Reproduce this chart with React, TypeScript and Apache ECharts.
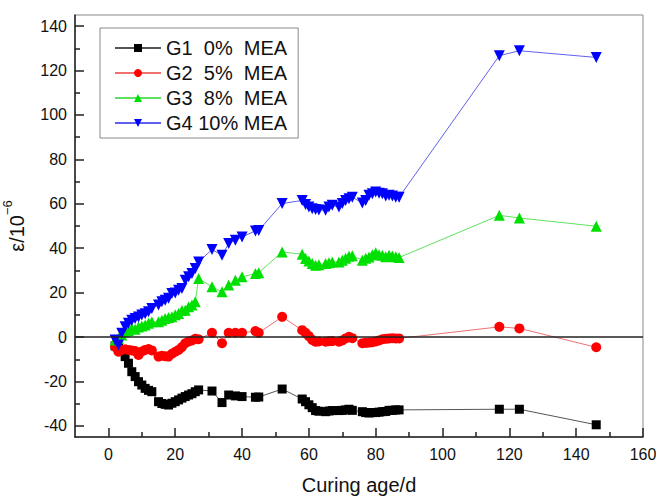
import React, { useEffect, useRef } from "react";
import * as echarts from "echarts";

// Curing age (days) shared by all four mixes
const days = [
  2, 3, 4, 5, 6, 7, 8, 9, 10, 11, 12, 13,
  15, 16, 17, 18, 19, 20, 21, 22, 23, 24, 25, 26, 27,
  31, 34, 36, 38, 40, 44, 45,
  52,
  58, 59, 60, 61, 62, 63, 65, 66, 67, 69, 70, 71, 72, 73,
  76, 77, 78, 79, 80, 81, 82, 83, 84, 85, 86, 87,
  117, 123, 146,
];

// Strain (×10^-6) for each mix
const g1Strain = [
  -4, -5, -6.5, -8.8, -11.8, -15.6, -17.8, -20.1, -21.6, -23.1, -24, -24.6,
  -29.1, -29.9, -30.3, -30.6, -29.8, -29.1, -28.3, -27.5, -26.8, -26.1, -25.5, -24.6, -23.8,
  -24.3, -29.5, -26.1, -26.5, -26.8, -27.1, -27,
  -23.4,
  -27.9, -29.1, -30.5, -31.8, -33.1, -33.4, -33.6, -33.3, -33.1, -33.1, -33, -32.8, -32.5, -33,
  -33.6, -34, -34.2, -34, -34, -33.8, -33.6, -33.5, -33, -33, -32.8, -32.8,
  -32.5, -32.5, -39.5,
];
const g2Strain = [
  -4.4, -6.6, -5.8, -5.5, -5.8, -6, -6.3, -8.1, -6.5, -5.8, -5.4, -6,
  -8.8, -8.4, -8.6, -8.8, -7.5, -6.6, -5.8, -4.5, -2.8, -2, -1.5, -0.8, -1,
  1.9, -2.8, 1.9, 1.9, 1.9, 2.7, 1.9,
  9.1,
  3.1, 1.9, 0.4, -1.3, -2.1, -2, -2.1, -1.9, -1.8, -2.1, -1.5, -0.6, 0.1, -0.5,
  -2.8, -2.6, -2.5, -2.3, -2, -1.5, -1, -0.8, -0.6, -0.5, -0.6, -0.6,
  4.6, 3.9, -4.6,
];
const g3Strain = [
  -1.3, -0.5, 0.9, 2.4, 3, 3.9, 3.5, 4.5, 5, 5.4, 6.2, 6.9,
  6.9, 7.6, 8.4, 8.8, 9.1, 10, 10.6, 12, 12.1, 13.6, 14.4, 15.9, 26.4,
  22.6, 20.4, 23.4, 25.6, 27.1, 28.6, 29,
  38.3,
  37.3, 35.4, 34.2, 33.1, 32.3, 32.5, 33.1, 33.5, 33.8, 33.8, 34.6, 35.5, 36.4, 36.6,
  34.6, 35.5, 36, 37, 37.9, 37, 36.8, 36.2, 36.8, 36.5, 36.1, 35.8,
  54.8, 53.6, 49.9,
];
const g4Strain = [
  -1.3, -3.6, 1.7, 4.6, 6.2, 7.6, 8.4, 9, 9.9, 10.5, 11.4, 12.9,
  14.4, 15.9, 16.6, 17.5, 19.6, 19.8, 21.1, 21.9, 25.6, 27.1, 28.6, 30.9, 33.8,
  39.4, 36.8, 42.1, 43.6, 45.1, 47.8, 48,
  60.1,
  61.5, 59.7, 58.5, 57.8, 57.4, 57.2, 57.1, 58.5, 59.3, 58.5, 60.1, 61.5, 62.3, 63,
  60.3, 61.5, 63.8, 64.5, 65.3, 64.8, 64.5, 63.5, 63.8, 63.5, 63, 63,
  126.7, 128.9, 125.9,
];

const seriesNames = ["G1  0%  MEA", "G2  5%  MEA", "G3  8%  MEA", "G4 10% MEA"];

const xMajor = [0, 20, 40, 60, 80, 100, 120, 140, 160];
const xMinor = [10, 30, 50, 70, 90, 110, 130, 150];
const yMajor = [-40, -20, 0, 20, 40, 60, 80, 100, 120, 140];
const yMinor = [-30, -10, 10, 30, 50, 70, 90, 110, 130];

const FONT = "Liberation Sans, Arial, sans-serif";

const pair = (vals: number[]) => days.map((d, i) => [d, vals[i]]);

export default function App() {
  const ref = useRef<HTMLDivElement>(null);

  useEffect(() => {
    if (!ref.current) return;
    const chart = echarts.init(ref.current, null, { renderer: "svg" });

    const xRange = { min: -10, max: 160 };
    const yRange = { min: -45, max: 145 };
    const box = { left: 75, right: 13, top: 15, bottom: 59 };
    const tickLine = { color: "#222", width: 1.5 };

    const mk = (
      name: string,
      vals: number[],
      symbol: string,
      size: number,
      color: string,
      lineColor: string,
      rotate = 0
    ) => ({
      name,
      type: "line",
      data: pair(vals),
      symbol,
      symbolSize: size,
      symbolRotate: rotate,
      itemStyle: { color },
      lineStyle: { color: lineColor, width: 1 },
      xAxisIndex: 0,
      yAxisIndex: 0,
    });

    const series: any[] = [
      mk(seriesNames[0], g1Strain, "rect", 9, "#000000", "#555555"),
      mk(seriesNames[1], g2Strain, "circle", 10, "#ff0000", "#f07070"),
      mk(seriesNames[2], g3Strain, "triangle", 11, "#00e000", "#60e060"),
      mk(seriesNames[3], g4Strain, "triangle", 11, "#0000ff", "#6060f0", 180),
    ];
    series[0].markLine = {
      silent: true,
      symbol: ["none", "none"],
      label: { show: false },
      lineStyle: { color: "#222", width: 1.5, type: "solid" },
      data: [{ yAxis: 0 }],
    };

    chart.setOption({
      animation: false,
      textStyle: { fontFamily: FONT },
      grid: [
        {
          ...box,
          outerBoundsMode: "none",
          containLabel: false,
          show: true,
          borderColor: "#888",
          borderWidth: 1,
        },
        // second grid on the same box carries the minor ticks
        { ...box, outerBoundsMode: "none", containLabel: false, show: false },
      ],
      legend: {
        orient: "vertical",
        left: 100,
        top: 28,
        itemWidth: 46,
        itemHeight: 10,
        itemGap: 5,
        padding: [10, 11, 5, 14],
        borderColor: "#888",
        borderWidth: 1,
        textStyle: { fontSize: 20, lineHeight: 20, color: "#111", fontFamily: FONT },
        data: seriesNames,
      },
      xAxis: [
        {
          type: "value",
          gridIndex: 0,
          ...xRange,
          position: "bottom",
          name: "Curing age/d",
          nameLocation: "middle",
          nameGap: 38,
          nameTextStyle: { fontSize: 20, color: "#111", fontFamily: FONT },
          axisLine: { onZero: false, lineStyle: tickLine },
          axisTick: { show: true, inside: true, length: 9, customValues: xMajor, lineStyle: tickLine },
          axisLabel: { customValues: xMajor, fontSize: 16, color: "#111", margin: 9, fontFamily: FONT },
          splitLine: { show: false },
        },
        {
          type: "value",
          gridIndex: 1,
          ...xRange,
          position: "bottom",
          axisLine: { show: false, onZero: false },
          axisTick: { show: true, inside: true, length: 5, customValues: xMinor, lineStyle: tickLine },
          axisLabel: { show: false },
          splitLine: { show: false },
        },
      ],
      yAxis: [
        {
          type: "value",
          gridIndex: 0,
          ...yRange,
          position: "left",
          name: "{a|ε/10}{b|−6}",
          nameLocation: "middle",
          nameGap: 48,
          nameTextStyle: {
            rich: {
              a: { fontSize: 20, color: "#111", fontFamily: FONT, lineHeight: 26, verticalAlign: "bottom" },
              b: { fontSize: 13, color: "#111", fontFamily: FONT, lineHeight: 26, verticalAlign: "top" },
            },
          },
          axisLine: { onZero: false, lineStyle: tickLine },
          axisTick: { show: true, inside: true, length: 9, customValues: yMajor, lineStyle: tickLine },
          axisLabel: { customValues: yMajor, fontSize: 16, color: "#111", margin: 8, fontFamily: FONT },
          splitLine: { show: false },
        },
        {
          type: "value",
          gridIndex: 1,
          ...yRange,
          position: "left",
          axisLine: { show: false, onZero: false },
          axisTick: { show: true, inside: true, length: 5, customValues: yMinor, lineStyle: tickLine },
          axisLabel: { show: false },
          splitLine: { show: false },
        },
      ],
      series,
    });

    return () => chart.dispose();
  }, []);

  return (
    <div
      ref={ref}
      style={{ position: "fixed", left: 0, top: 0, width: 656, height: 496, background: "#fff" }}
    />
  );
}
